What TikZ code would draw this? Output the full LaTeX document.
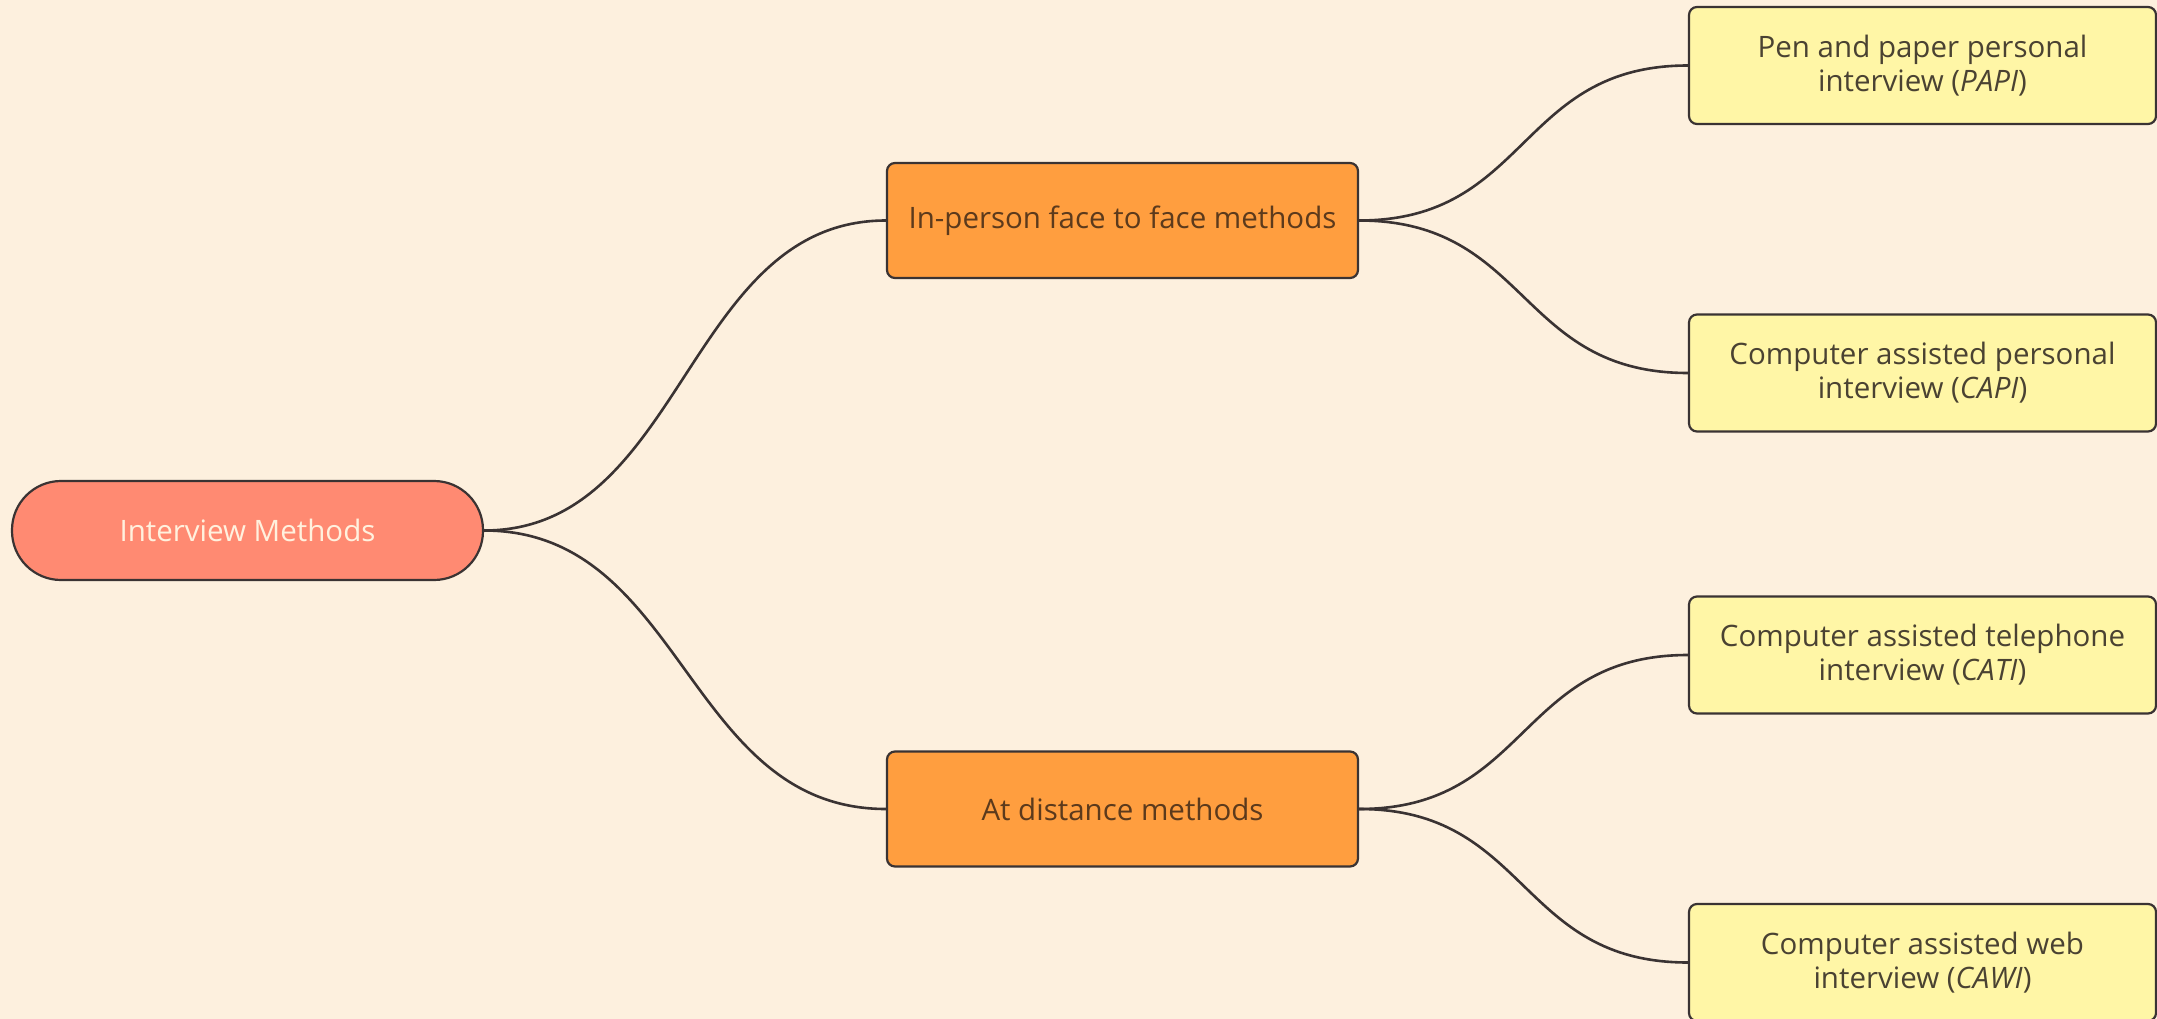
\documentclass[tikz,border=0pt]{standalone}
\usepackage{fontspec}
\setmainfont{Open Sans}
\definecolor{bg}{HTML}{FDF0DE}
\definecolor{rootfill}{HTML}{FF8A72}
\definecolor{rootText}{HTML}{FFF1DE}
\definecolor{midfill}{HTML}{FF9E3F}
\definecolor{midText}{HTML}{5C3A1C}
\definecolor{leaffill}{HTML}{FFF6A6}
\definecolor{leafText}{HTML}{4A4232}
\definecolor{edge}{HTML}{3A3333}
\begin{document}
\begin{tikzpicture}[x=1pt,y=-1pt,
  base/.style={draw=edge, line width=2.2pt, align=center, inner sep=0pt,
    font=\fontsize{29.5}{34}\selectfont},
  rootbox/.style={base, fill=rootfill, text=rootText, rounded corners=49pt,
    minimum width=471pt, minimum height=99pt},
  midbox/.style={base, fill=midfill, text=midText, rounded corners=8pt,
    minimum width=471pt, minimum height=115pt},
  leafbox/.style={base, fill=leaffill, text=leafText, rounded corners=8pt,
    minimum width=467pt, minimum height=117pt},
  link/.style={draw=edge, line width=2.6pt}
]
\fill[bg] (0,0) rectangle (2157,1019);
\useasboundingbox (0,0) rectangle (2157,1019);

\node[rootbox] (root) at (247.5,530.5) {Interview Methods};
\node[midbox] (inp) at (1122.5,220.5) {In-person face to face methods};
\node[midbox] (dist) at (1122.5,809) {At distance methods};
\node[leafbox] (papi) at (1922.5,65.5) {Pen and paper personal\\interview (\textit{PAPI})};
\node[leafbox] (capi) at (1922.5,373) {Computer assisted personal\\interview (\textit{CAPI})};
\node[leafbox] (cati) at (1922.5,655) {Computer assisted telephone\\interview (\textit{CATI})};
\node[leafbox] (cawi) at (1922.5,962.5) {Computer assisted web\\interview (\textit{CAWI})};

\draw[link] (root.east) .. controls +(200,0) and +(-200,0) .. (inp.west);
\draw[link] (root.east) .. controls +(200,0) and +(-200,0) .. (dist.west);
\draw[link] (inp.east) .. controls +(170,0) and +(-170,0) .. (papi.west);
\draw[link] (inp.east) .. controls +(170,0) and +(-170,0) .. (capi.west);
\draw[link] (dist.east) .. controls +(170,0) and +(-170,0) .. (cati.west);
\draw[link] (dist.east) .. controls +(170,0) and +(-170,0) .. (cawi.west);
\end{tikzpicture}
\end{document}
